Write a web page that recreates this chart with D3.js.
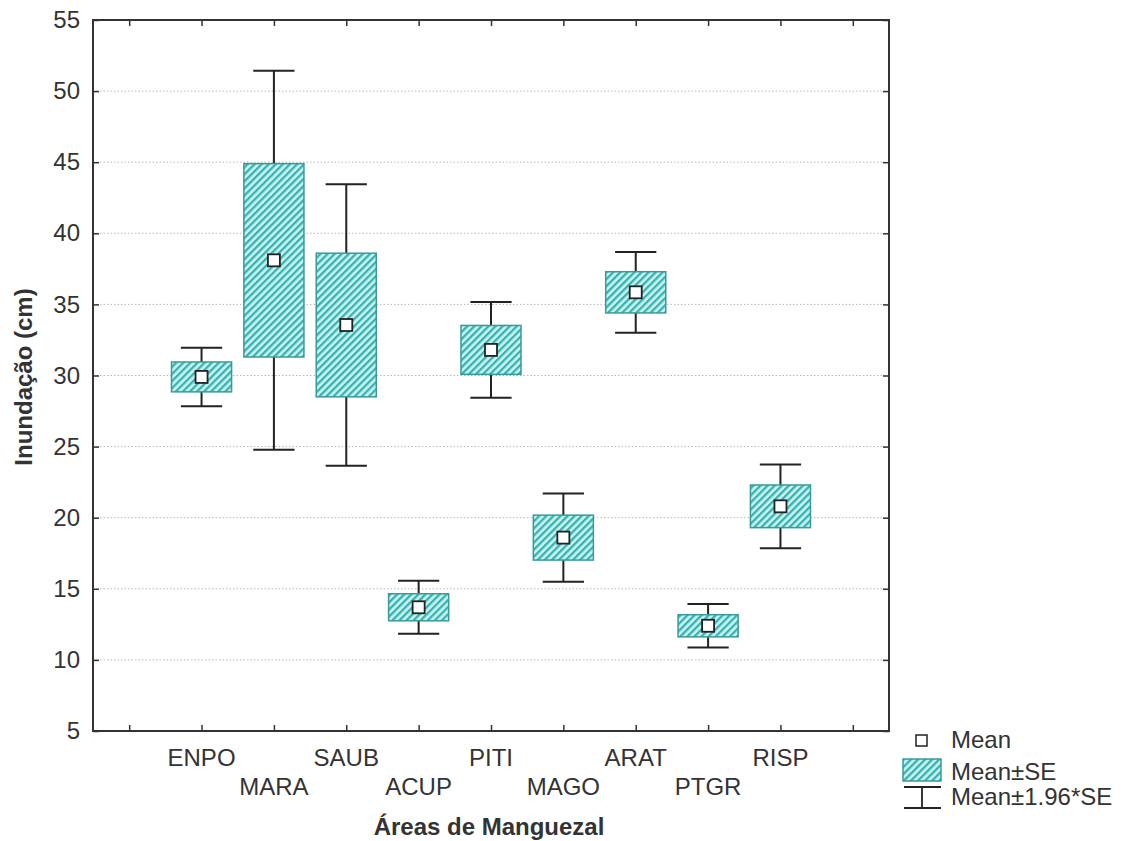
<!DOCTYPE html>
<html>
<head>
<meta charset="utf-8">
<script src="https://cdn.jsdelivr.net/npm/d3@7"></script>
<style>
  body { margin: 0; background: #fff; }
  text { font-family: "Liberation Sans", Arial, sans-serif; fill: #333; }
</style>
</head>
<body>
<script>
// data
const areas = ["ENPO", "MARA", "SAUB", "ACUP", "PITI", "MAGO", "ARAT", "PTGR", "RISP"];
const means = [29.9, 38.1, 33.55, 13.7, 31.8, 18.6, 35.85, 12.4, 20.8];
const se = [1.05, 6.8, 5.05, 0.95, 1.72, 1.58, 1.45, 0.78, 1.5];
const yTicks = [5, 10, 15, 20, 25, 30, 35, 40, 45, 50, 55];

const w = 1122, h = 841;
const pLeft = 93, pRight = 889, pTop = 20, pBottom = 731;

const svg = d3.select("body").append("svg")
  .attr("width", w).attr("height", h);

// hatch pattern for the SE boxes
const defs = svg.append("defs");
const pat = defs.append("pattern")
  .attr("id", "hatch")
  .attr("patternUnits", "userSpaceOnUse")
  .attr("width", 5).attr("height", 5)
  .attr("patternTransform", "rotate(45)");
pat.append("rect").attr("width", 5).attr("height", 5).attr("fill", "#c4f5f4");
pat.append("rect").attr("width", 2.3).attr("height", 5).attr("fill", "#3bb0ad");

// scales: categories sit at 1..9, ticks 0..10
const x = d3.scaleLinear().domain([-0.5, 10.5]).range([pLeft, pRight]);
const y = d3.scaleLinear().domain([5, 55]).range([pBottom, pTop]);

// grid
svg.append("g").selectAll("line")
  .data(yTicks.slice(1, -1))
  .enter().append("line")
  .attr("x1", pLeft).attr("x2", pRight)
  .attr("y1", d => y(d)).attr("y2", d => y(d))
  .attr("stroke", "#b8b8b8")
  .attr("stroke-dasharray", "1.5,2");

// axes (ticks inward)
svg.append("g").attr("transform", `translate(${pLeft},0)`)
  .call(d3.axisLeft(y).tickValues(yTicks).tickSize(-6).tickPadding(13))
  .call(g => g.select(".domain").remove())
  .call(g => g.selectAll("line").attr("stroke", "#333").attr("stroke-width", 1.5))
  .call(g => g.selectAll("text").style("font-size", "24px").attr("fill", "#333"));

svg.append("g").attr("transform", `translate(${pRight},0)`)
  .call(d3.axisRight(y).tickValues(yTicks).tickSize(-6).tickFormat(""))
  .call(g => g.select(".domain").remove())
  .call(g => g.selectAll("line").attr("stroke", "#333").attr("stroke-width", 1.5));

const xTicks = d3.range(0, 11);
svg.append("g").attr("transform", `translate(0,${pBottom})`)
  .call(d3.axisBottom(x).tickValues(xTicks).tickSize(-6).tickFormat(""))
  .call(g => g.select(".domain").remove())
  .call(g => g.selectAll("line").attr("stroke", "#333").attr("stroke-width", 1.5));

svg.append("g").attr("transform", `translate(0,${pTop})`)
  .call(d3.axisTop(x).tickValues(xTicks).tickSize(-6).tickFormat(""))
  .call(g => g.select(".domain").remove())
  .call(g => g.selectAll("line").attr("stroke", "#333").attr("stroke-width", 1.5));

// frame
svg.append("rect")
  .attr("x", pLeft).attr("y", pTop)
  .attr("width", pRight - pLeft).attr("height", pBottom - pTop)
  .attr("fill", "none").attr("stroke", "#333").attr("stroke-width", 2);

// staggered category labels
svg.append("g").selectAll("text")
  .data(areas)
  .enter().append("text")
  .attr("x", (d, i) => x(i + 1))
  .attr("y", (d, i) => i % 2 === 0 ? 766 : 795)
  .attr("text-anchor", "middle")
  .style("font-size", "24px")
  .text(d => d);

// boxes and whiskers
const boxW = 0.83, capW = 0.57;
const g = svg.append("g").selectAll("g")
  .data(areas)
  .enter().append("g");

g.append("line")
  .attr("x1", (d, i) => x(i + 1)).attr("x2", (d, i) => x(i + 1))
  .attr("y1", (d, i) => y(means[i] + 1.96 * se[i]))
  .attr("y2", (d, i) => y(means[i] - 1.96 * se[i]))
  .attr("stroke", "#222").attr("stroke-width", 2);

[1.96, -1.96].forEach(k => {
  g.append("line")
    .attr("x1", (d, i) => x(i + 1 - capW / 2)).attr("x2", (d, i) => x(i + 1 + capW / 2))
    .attr("y1", (d, i) => y(means[i] + k * se[i]))
    .attr("y2", (d, i) => y(means[i] + k * se[i]))
    .attr("stroke", "#222").attr("stroke-width", 2);
});

g.append("rect")
  .attr("x", (d, i) => x(i + 1 - boxW / 2))
  .attr("width", x(boxW) - x(0))
  .attr("y", (d, i) => y(means[i] + se[i]))
  .attr("height", (d, i) => y(means[i] - se[i]) - y(means[i] + se[i]))
  .attr("fill", "url(#hatch)")
  .attr("stroke", "#3a9a97").attr("stroke-width", 1.5);

g.append("rect")
  .attr("x", (d, i) => x(i + 1) - 6)
  .attr("y", (d, i) => y(means[i]) - 6)
  .attr("width", 12).attr("height", 12)
  .attr("fill", "#fff").attr("stroke", "#222").attr("stroke-width", 1.8);

// axis titles
svg.append("text")
  .attr("x", 489).attr("y", 835)
  .attr("text-anchor", "middle")
  .style("font-size", "24px").style("font-weight", "bold")
  .text("Áreas de Manguezal");

svg.append("text")
  .attr("transform", "translate(32,377) rotate(-90)")
  .attr("text-anchor", "middle")
  .style("font-size", "24px").style("font-weight", "bold")
  .text("Inundação (cm)");

// legend
const lg = svg.append("g");
lg.append("rect").attr("x", 916).attr("y", 735).attr("width", 11).attr("height", 11)
  .attr("fill", "#fff").attr("stroke", "#222").attr("stroke-width", 1.5);
lg.append("text").attr("x", 951).attr("y", 748).style("font-size", "24px").text("Mean");

lg.append("rect").attr("x", 903).attr("y", 759).attr("width", 38).attr("height", 22)
  .attr("fill", "url(#hatch)").attr("stroke", "#3a9a97").attr("stroke-width", 1.5);
lg.append("text").attr("x", 951).attr("y", 780).style("font-size", "24px").text("Mean±SE");

lg.append("line").attr("x1", 904).attr("x2", 941).attr("y1", 787).attr("y2", 787)
  .attr("stroke", "#222").attr("stroke-width", 1.8);
lg.append("line").attr("x1", 904).attr("x2", 941).attr("y1", 808).attr("y2", 808)
  .attr("stroke", "#222").attr("stroke-width", 1.8);
lg.append("line").attr("x1", 922).attr("x2", 922).attr("y1", 787).attr("y2", 808)
  .attr("stroke", "#222").attr("stroke-width", 1.8);
lg.append("text").attr("x", 951).attr("y", 805).style("font-size", "24px").text("Mean±1.96*SE");
</script>
</body>
</html>
